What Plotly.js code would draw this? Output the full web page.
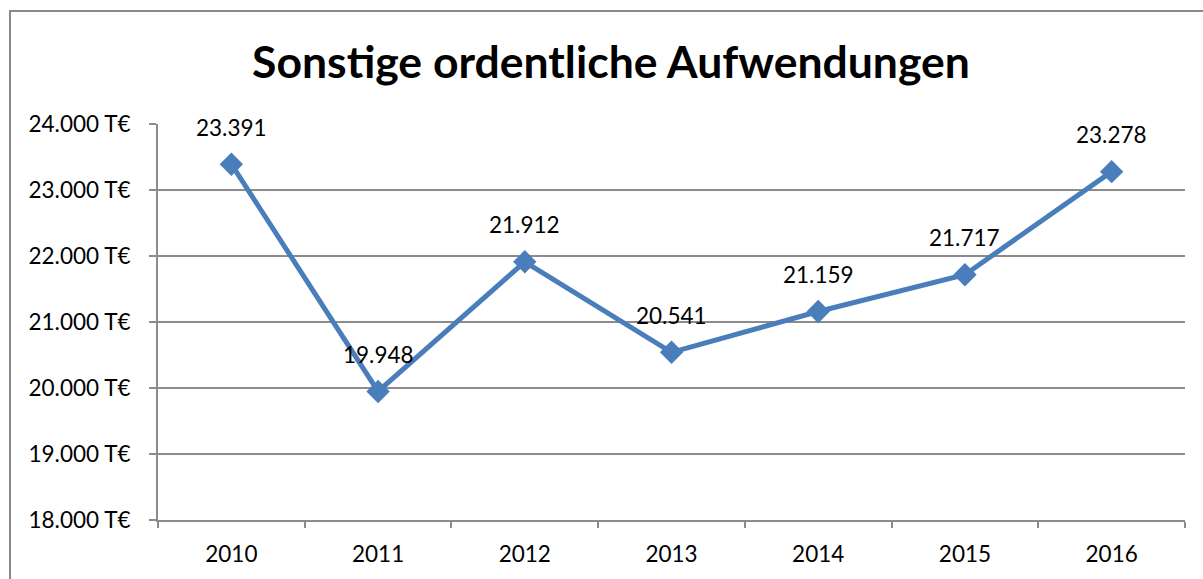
<!DOCTYPE html>
<html>
<head>
<meta charset="utf-8">
<script src="https://cdn.plot.ly/plotly-3.0.1.min.js"></script>
<style>html,body{margin:0;padding:0;background:#fff;}#chart{width:1203px;height:579px;}</style>
</head>
<body>
<div id="chart"></div>
<script>
const years = ['2010', '2011', '2012', '2013', '2014', '2015', '2016'];
const values = [23391, 19948, 21912, 20541, 21159, 21717, 23278];
const titleText = 'Sonstige ordentliche Aufwendungen';

function fmtDE(v) {
  const s = String(Math.round(v));
  return s.length > 3 ? s.slice(0, s.length - 3) + '.' + s.slice(s.length - 3) : s;
}

const FONT = 'Lato, "Open Sans", "Noto Sans", sans-serif';
const lineColor = '#4a7ebb';
const gridColor = '#8c8c8c';

const trace = {
  x: years,
  y: values,
  type: 'scatter',
  mode: 'lines+markers',
  line: {color: lineColor, width: 5},
  marker: {symbol: 'diamond', size: 18, color: lineColor},
  hoverinfo: 'skip',
  cliponaxis: false
};

const annotations = [];
for (let i = 0; i < years.length; i++) {
  annotations.push({
    x: i, y: values[i], xref: 'x', yref: 'y',
    text: fmtDE(values[i]),
    showarrow: false,
    xanchor: 'center', yanchor: 'middle',
    yshift: 37,
    font: {family: FONT, size: 22.5, color: '#000000'}
  });
}

const layout = {
  width: 1203, height: 579,
  margin: {l: 158, r: 18, t: 124, b: 59},
  paper_bgcolor: '#fff', plot_bgcolor: '#fff',
  separators: ',.',
  showlegend: false,
  title: {
    text: '<b>' + titleText + '</b>',
    font: {family: FONT, size: 44.5, color: '#000'},
    xref: 'container', x: 611/1203, xanchor: 'center',
    yref: 'container', y: 1 - 62/579, yanchor: 'middle'
  },
  xaxis: {
    type: 'category',
    showgrid: false,
    showline: true, linecolor: gridColor, linewidth: 2,
    ticks: 'outside', tickson: 'boundaries', ticklen: 6, tickcolor: gridColor, tickwidth: 2,
    tickfont: {family: FONT, size: 22.5, color: '#000'},
    ticklabelstandoff: 13,
    range: [-0.5, 6.5],
    fixedrange: true
  },
  yaxis: {
    range: [18000, 24000],
    dtick: 1000,
    tickformat: ',.0f',
    ticksuffix: ' T€',
    showgrid: true, gridcolor: gridColor, gridwidth: 2,
    zeroline: false,
    showline: true, linecolor: gridColor, linewidth: 2,
    ticks: 'outside', ticklen: 7, tickcolor: gridColor, tickwidth: 2,
    tickfont: {family: FONT, size: 22.5, color: '#000'},
    ticklabelstandoff: 14,
    fixedrange: true
  },
  annotations: annotations,
  shapes: [{
    type: 'rect', xref: 'paper', yref: 'paper',
    x0: (10 - 158) / 1027, x1: 1.5,
    y0: -0.5, y1: (520 - 11) / 396,
    line: {color: '#8a8a8a', width: 2},
    fillcolor: 'rgba(0,0,0,0)',
    layer: 'below'
  }]
};

Plotly.newPlot('chart', [trace], layout, {displayModeBar: false});
</script>
</body>
</html>
